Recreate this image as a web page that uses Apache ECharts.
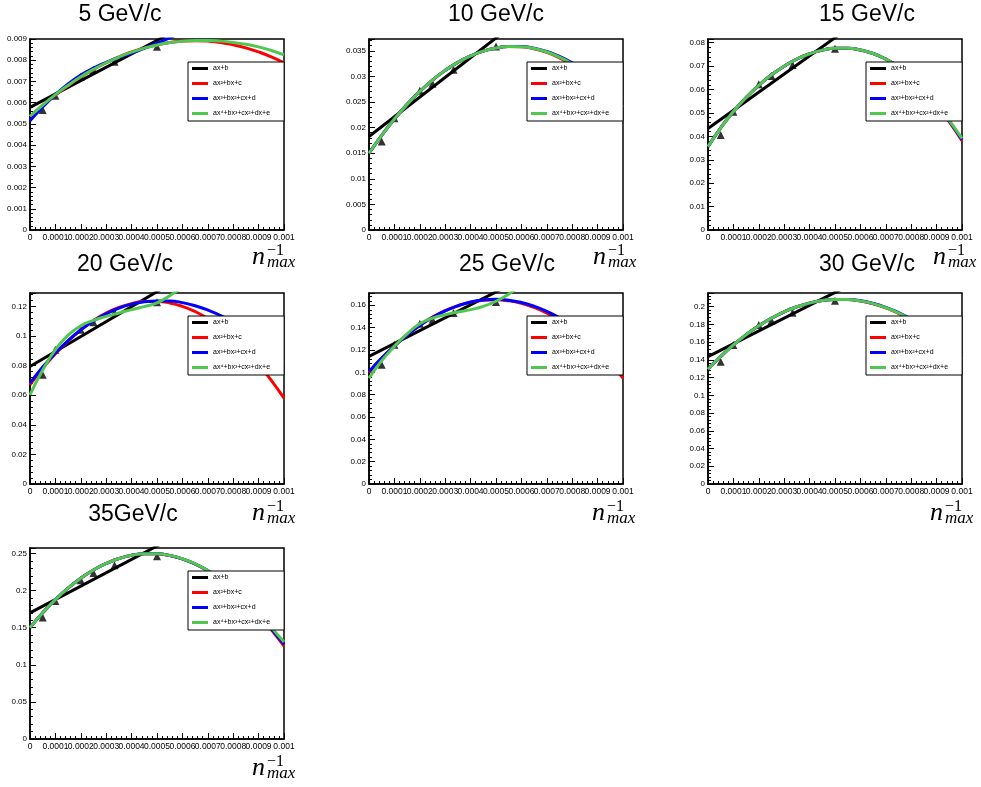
<!DOCTYPE html>
<html>
<head>
<meta charset="utf-8">
<script src="https://cdn.jsdelivr.net/npm/echarts@6/dist/echarts.min.js"></script>
<style>
html, body { margin: 0; padding: 0; background: #fff; }
#chart { width: 981px; height: 787px; }
</style>
</head>
<body>
<div id="chart"></div>
<script>
// momentum bins, one panel each
const titles = ['5 GeV/c', '10 GeV/c', '15 GeV/c', '20 GeV/c', '25 GeV/c', '30 GeV/c', '35GeV/c']
// 1/n_max of the measured points and of the sampled fit curves
const xPoints = [0.00005, 0.0001, 0.0002, 0.00025, 0.000333, 0.0005]
const xCurve = [0, 0.00005, 0.0001, 0.00015, 0.0002, 0.00025, 0.0003, 0.00035, 0.0004, 0.00045, 0.0005,
  0.00055, 0.0006, 0.00065, 0.0007, 0.00075, 0.0008, 0.00085, 0.0009, 0.00095, 0.001]
const xLine = [0, 0.0006]

const points = [
  [0.00565, 0.00633, 0.00722, 0.00754, 0.00793, 0.00864],
  [0.0173, 0.0218, 0.0272, 0.02855, 0.0313, 0.03585],
  [0.0406, 0.0505, 0.0623, 0.0658, 0.0705, 0.0774],
  [0.0738, 0.0907, 0.1042, 0.1092, 0.116, 0.1227],
  [0.1068, 0.1247, 0.1435, 0.1471, 0.153, 0.163],
  [0.138, 0.1568, 0.1793, 0.1842, 0.1932, 0.2068],
  [0.1637, 0.1862, 0.214, 0.2239, 0.2343, 0.2464]
]
const linFit = [
  [0.00578, 0.00956],
  [0.01825, 0.04135],
  [0.0434, 0.0899],
  [0.0794, 0.140],
  [0.1142, 0.1835],
  [0.1436, 0.2305],
  [0.170, 0.2782]
]
const quadFit = [
  [0.00534, 0.00587, 0.00636, 0.0068, 0.00721, 0.00757, 0.00788, 0.00816, 0.00839, 0.00858, 0.00873,
    0.00884, 0.0089, 0.00892, 0.0089, 0.00884, 0.00873, 0.00858, 0.00839, 0.00816, 0.00788],
  [0.01499, 0.01849, 0.02167, 0.02453, 0.02706, 0.02928, 0.03117, 0.03274, 0.03399, 0.03493, 0.03554,
    0.03582, 0.03578, 0.0354, 0.03468, 0.03362, 0.03222, 0.0305, 0.02845, 0.0261, 0.0234],
  [0.0356, 0.0436, 0.0506, 0.0566, 0.0618, 0.0663, 0.070, 0.07305, 0.0753, 0.07685, 0.0776,
    0.07765, 0.0769, 0.0754, 0.073, 0.06985, 0.0656, 0.060, 0.0532, 0.0462, 0.0381],
  [0.067, 0.0781, 0.088, 0.0967, 0.1041, 0.1104, 0.1154, 0.1192, 0.1218, 0.1232, 0.1233,
    0.1223, 0.120, 0.1165, 0.1118, 0.1059, 0.0987, 0.0904, 0.0808, 0.070, 0.058],
  [0.0999, 0.1125, 0.1237, 0.1336, 0.1422, 0.1494, 0.1552, 0.1596, 0.1628, 0.16455, 0.165,
    0.16405, 0.1618, 0.1581, 0.1531, 0.1468, 0.1391, 0.1301, 0.1197, 0.1079, 0.0948],
  [0.1293, 0.1438, 0.1568, 0.1683, 0.1784, 0.187, 0.1942, 0.1999, 0.2041, 0.2069, 0.2082,
    0.208, 0.2064, 0.2033, 0.1986, 0.1924, 0.1849, 0.1758, 0.1652, 0.153, 0.1395],
  [0.1502, 0.1702, 0.188, 0.2035, 0.2168, 0.2279, 0.2367, 0.2433, 0.2477, 0.2498, 0.2496,
    0.2473, 0.2427, 0.2358, 0.2267, 0.2154, 0.2018, 0.186, 0.1679, 0.1476, 0.1251]
]
const cubicFit = [
  [0.00515, 0.0058, 0.00638, 0.00688, 0.0073, 0.00763, 0.0079, 0.00813, 0.00834, 0.00856, 0.0088,
    0.00905, 0.00932, 0.00962, 0.00995, 0.01032, 0.01075, 0.01125, 0.0118, 0.01245, 0.0132],
  [0.01499, 0.01849, 0.02167, 0.02453, 0.02706, 0.02928, 0.03117, 0.03274, 0.03399, 0.03493, 0.03554,
    0.03583, 0.03582, 0.0355, 0.03486, 0.0339, 0.03265, 0.0311, 0.0292, 0.027, 0.0245],
  [0.0356, 0.0436, 0.0506, 0.0566, 0.0618, 0.0663, 0.070, 0.07305, 0.0753, 0.07685, 0.0776,
    0.07765, 0.0769, 0.0754, 0.073, 0.06985, 0.0656, 0.0601, 0.0534, 0.0465, 0.0386],
  [0.0681, 0.079, 0.0885, 0.0969, 0.104, 0.1101, 0.115, 0.1188, 0.1215, 0.1231, 0.1236,
    0.1236, 0.1225, 0.1204, 0.1175, 0.1138, 0.109, 0.103, 0.096, 0.0875, 0.078],
  [0.1008, 0.1128, 0.1235, 0.1334, 0.142, 0.1491, 0.155, 0.1596, 0.163, 0.1648, 0.1653,
    0.1646, 0.1625, 0.1591, 0.1546, 0.1489, 0.142, 0.1341, 0.125, 0.115, 0.104],
  [0.1293, 0.1438, 0.1568, 0.1683, 0.1784, 0.187, 0.1942, 0.1999, 0.2041, 0.2069, 0.2082,
    0.2081, 0.2066, 0.2036, 0.1992, 0.1933, 0.186, 0.1773, 0.167, 0.1553, 0.142],
  [0.1502, 0.1702, 0.188, 0.2035, 0.2168, 0.2279, 0.2367, 0.2433, 0.2477, 0.2498, 0.2496,
    0.2473, 0.2428, 0.236, 0.227, 0.2158, 0.2023, 0.1864, 0.1685, 0.1485, 0.1277]
]
const quartFit = [
  [0.00536, 0.00589, 0.00638, 0.00682, 0.00722, 0.00757, 0.00788, 0.00815, 0.00838, 0.00857, 0.00872,
    0.00883, 0.0089, 0.00893, 0.00893, 0.0089, 0.00884, 0.00875, 0.00863, 0.00846, 0.00825],
  [0.01499, 0.01849, 0.02167, 0.02453, 0.02706, 0.02928, 0.03117, 0.03274, 0.03399, 0.03493, 0.03554,
    0.03582, 0.03579, 0.03544, 0.03477, 0.03377, 0.03245, 0.03082, 0.02886, 0.02658, 0.02398],
  [0.0356, 0.0436, 0.0506, 0.0566, 0.0618, 0.0663, 0.070, 0.07305, 0.0753, 0.07685, 0.0776,
    0.07765, 0.0769, 0.0754, 0.073, 0.06985, 0.0656, 0.0602, 0.0536, 0.04675, 0.0391],
  [0.0602, 0.077, 0.0907, 0.1005, 0.1069, 0.1105, 0.1132, 0.1155, 0.1178, 0.1198, 0.1223,
    0.1272, 0.133, 0.140, 0.148, 0.157, 0.168, 0.180, 0.195, 0.212, 0.230],
  [0.0948, 0.1105, 0.1232, 0.1345, 0.1435, 0.1485, 0.1516, 0.154, 0.1561, 0.159, 0.1636,
    0.170, 0.178, 0.188, 0.200, 0.213, 0.228, 0.244, 0.262, 0.281, 0.300],
  [0.1293, 0.1438, 0.1568, 0.1683, 0.1784, 0.187, 0.1942, 0.1999, 0.2041, 0.2069, 0.2082,
    0.208, 0.2064, 0.2034, 0.1988, 0.1928, 0.1854, 0.1765, 0.1661, 0.1543, 0.141],
  [0.1502, 0.1702, 0.188, 0.2035, 0.2168, 0.2279, 0.2367, 0.2433, 0.2477, 0.2498, 0.2496,
    0.2474, 0.243, 0.2362, 0.2273, 0.2162, 0.203, 0.1874, 0.170, 0.1505, 0.1308]
]
const yMax = [0.009, 0.0373, 0.0816, 0.129, 0.171, 0.2154, 0.2575]
const yStep = [0.001, 0.005, 0.01, 0.02, 0.02, 0.02, 0.05]

const fitNames = ['ax+b', 'ax²+bx+c', 'ax³+bx²+cx+d', 'ax⁴+bx³+cx²+dx+e']
const fitColors = ['#000000', '#ff0000', '#0000ff', '#50c850']

// pad placement (frame corner, title centre, n_max label)
const pads = [
  { left: 30, top: 39, tx: 120, ty: 15, nx: 252, nb: 266 },
  { left: 369, top: 39, tx: 496, ty: 15, nx: 593, nb: 266 },
  { left: 708, top: 39, tx: 867, ty: 15, nx: 933, nb: 266 },
  { left: 30, top: 293, tx: 125, ty: 265, nx: 252, nb: 522 },
  { left: 369, top: 293, tx: 507, ty: 265, nx: 592, nb: 522 },
  { left: 708, top: 293, tx: 867, ty: 265, nx: 930, nb: 522 },
  { left: 30, top: 548, tx: 133, ty: 515, nx: 252, nb: 777 }
]

const fmt = v => String(+v.toPrecision(6))
const zip = (xs, ys) => xs.map((x, j) => [x, ys[j]])

const grid = [], xAxis = [], yAxis = [], series = [], legend = [], graphic = []

pads.forEach((p, i) => {
  grid.push({
    left: p.left, top: p.top, width: 254, height: 191,
    show: true, borderColor: '#000', borderWidth: 1.5
  })
  xAxis.push({
    type: 'value', gridIndex: i, min: 0, max: 0.001, interval: 0.0001,
    axisLine: { lineStyle: { color: '#000', width: 1.5 } },
    axisTick: { inside: true, length: 6, lineStyle: { color: '#000' } },
    minorTick: { show: true, splitNumber: 5, length: 3, lineStyle: { color: '#000' } },
    splitLine: { show: false },
    axisLabel: { fontSize: 8.5, color: '#000', margin: 3, fontFamily: 'Liberation Sans', formatter: fmt }
  })
  yAxis.push({
    type: 'value', gridIndex: i, min: 0, max: yMax[i], interval: yStep[i],
    axisLine: { show: true, lineStyle: { color: '#000', width: 1.5 } },
    axisTick: { show: true, inside: true, length: 6, lineStyle: { color: '#000' } },
    minorTick: { show: true, splitNumber: 5, length: 3, lineStyle: { color: '#000' } },
    splitLine: { show: false },
    axisLabel: {
      fontSize: 8, color: '#000', margin: 3, fontFamily: 'Liberation Sans', formatter: fmt,
      showMaxLabel: i === 0
    }
  })

  series.push({
    type: 'scatter', xAxisIndex: i, yAxisIndex: i,
    data: zip(xPoints, points[i]),
    symbol: 'triangle', symbolSize: 8, itemStyle: { color: '#000' }
  })
  const fits = [
    { x: xLine, y: linFit[i], smooth: false },
    { x: xCurve, y: quadFit[i], smooth: true },
    { x: xCurve, y: cubicFit[i], smooth: true },
    { x: xCurve, y: quartFit[i], smooth: true }
  ]
  fits.forEach((f, k) => {
    series.push({
      type: 'line', name: fitNames[k], xAxisIndex: i, yAxisIndex: i,
      data: zip(f.x, f.y), smooth: f.smooth, showSymbol: false, clip: true,
      color: fitColors[k], lineStyle: { width: 3, color: fitColors[k] },
      emphasis: { disabled: true }
    })
  })

  legend.push({
    left: p.left + 158, top: p.top + 23, orient: 'vertical',
    data: fitNames, icon: 'rect', itemWidth: 16, itemHeight: 3, itemGap: 8,
    padding: [3, 14, 4, 4], backgroundColor: '#fff', borderColor: '#000', borderWidth: 1,
    selectedMode: false,
    textStyle: { fontSize: 7, color: '#000', fontFamily: 'Liberation Sans' }
  })

  graphic.push(
    { type: 'text', x: p.tx, y: p.ty, style: { text: titles[i], fill: '#000', font: '23px "Liberation Sans"', align: 'center', verticalAlign: 'middle' } },
    { type: 'text', x: p.nx, y: p.nb - 9, style: { text: 'n', fill: '#000', font: 'italic 26px "Liberation Serif"', align: 'left', verticalAlign: 'middle' } },
    { type: 'text', x: p.nx + 15, y: p.nb - 15, style: { text: '−1', fill: '#000', font: '16px "Liberation Serif"', align: 'left', verticalAlign: 'middle' } },
    { type: 'text', x: p.nx + 15, y: p.nb - 3, style: { text: 'max', fill: '#000', font: 'italic 17px "Liberation Serif"', align: 'left', verticalAlign: 'middle' } }
  )
})

const myChart = echarts.init(document.getElementById('chart'))
myChart.setOption({
  animation: false,
  backgroundColor: '#fff',
  grid, xAxis, yAxis, series, legend, graphic
})
</script>
</body>
</html>
